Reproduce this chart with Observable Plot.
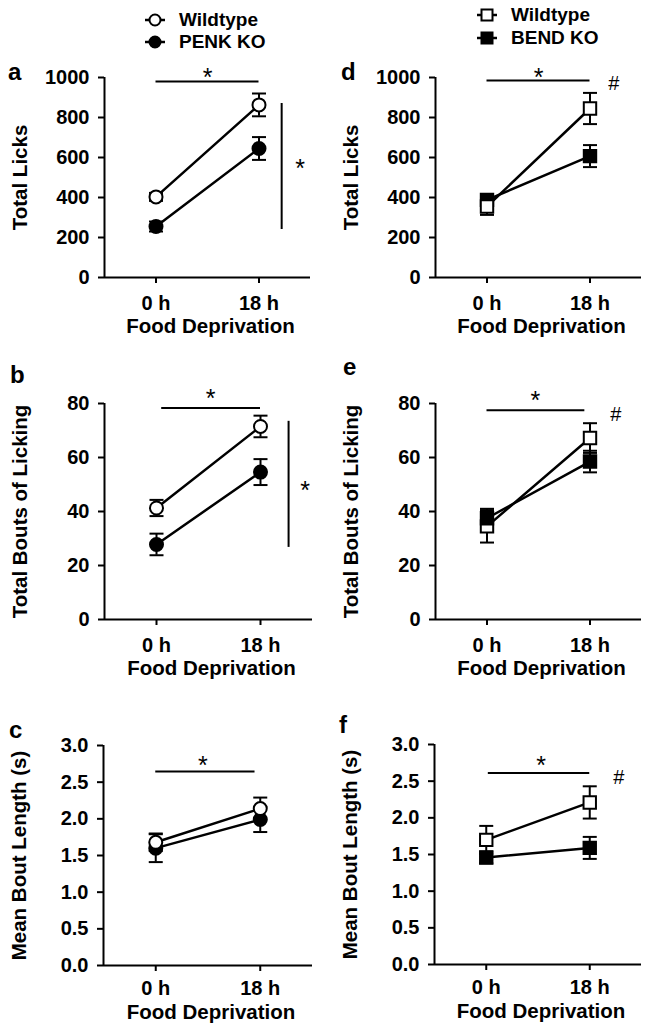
<!DOCTYPE html>
<html><head><meta charset="utf-8">
<script src="https://cdn.jsdelivr.net/npm/d3@7"></script>
<script src="https://cdn.jsdelivr.net/npm/@observablehq/plot@0.6"></script>
<style>
body{margin:0;background:#fff;}
#fig{position:relative;width:646px;height:1033px;font-family:"Liberation Sans",Arial,sans-serif;font-weight:bold;color:#000;overflow:hidden;}
.p{position:absolute;}
.lbl{position:absolute;font-size:24px;line-height:1;}
.leg{position:absolute;font-size:19px;height:20px;display:flex;align-items:center;white-space:nowrap;}
.leg svg{margin-right:13px;}
</style></head><body><div id="fig"></div>
<script>
// ---- data ----
const times = ["0 h", "18 h"];
const groupsLeft = ["Wildtype", "PENK KO"];
const groupsRight = ["Wildtype", "BEND KO"];

const penkLicksWT = [403, 863], penkLicksWTErr = [20, 57];
const penkLicksKO = [255, 645], penkLicksKOErr = [25, 57];
const penkBoutsWT = [41.3, 71.5], penkBoutsWTErr = [3, 4];
const penkBoutsKO = [27.8, 54.6], penkBoutsKOErr = [4, 4.8];
const penkLenWT = [1.68, 2.14], penkLenWTErr = [0.12, 0.15];
const penkLenKO = [1.60, 1.99], penkLenKOErr = [0.19, 0.17];

const bendLicksWT = [355, 845], bendLicksWTErr = [42, 78];
const bendLicksKO = [388, 607], bendLicksKOErr = [25, 55];
const bendBoutsWT = [34.5, 67.2], bendBoutsWTErr = [6, 5.5];
const bendBoutsKO = [37.5, 58.5], bendBoutsKOErr = [3.5, 4];
const bendLenWT = [1.70, 2.21], bendLenWTErr = [0.19, 0.22];
const bendLenKO = [1.46, 1.59], bendLenKOErr = [0.08, 0.15];

const licksTicks = [0, 200, 400, 600, 800, 1000];
const boutsTicks = [0, 20, 40, 60, 80];
const lenTicks = [0, 0.5, 1.0, 1.5, 2.0, 2.5, 3.0];

// significance annotations (data coordinates)
const sigA = {bar: [0, 1, 980], star: [0.5, 997], vbar: [1.22, 240, 870], vstar: [1.40, 542]};
const sigB = {bar: [0.05, 1, 78.3], star: [0.52, 81.8], vbar: [1.27, 26.7, 73.4], vstar: [1.43, 47.7]};
const sigC = {bar: [0, 0.95, 2.645], star: [0.45, 2.72]};
const sigD = {bar: [0, 1, 985], star: [0.5, 997], hash: [1.23, 970]};
const sigE = {bar: [0, 0.95, 77.5], star: [0.47, 81], hash: [1.25, 76]};
const sigF = {bar: [0.02, 1, 2.61], star: [0.53, 2.71], hash: [1.28, 2.55]};

// ---- drawing ----
const FONT = '"Liberation Sans", Arial, sans-serif';
const cap = {draw(ctx, size) { const r = Math.sqrt(size / Math.PI); ctx.moveTo(-r, 0); ctx.lineTo(r, 0); }};
const fig = document.getElementById("fig");

function panel(cfg) {
  const rows = [];
  cfg.series.forEach(s => s.values.forEach((v, i) => rows.push({name: s.name, x: i, y: v, err: s.err[i], filled: s.filled})));
  const [y0, y1] = cfg.domain;
  const sig = cfg.sig;
  const marks = [
    Plot.ruleY([y0], {x1: -0.5, x2: 1.5, strokeWidth: 2}),
    Plot.ruleX([-0.5], {y1: y0, y2: y1, strokeWidth: 2}),
    Plot.axisY({ticks: cfg.ticks, tickFormat: cfg.fmt, tickSize: 6, tickPadding: 9, strokeWidth: 2, label: null, fontSize: 20}),
    Plot.axisX({ticks: [0, 1], tickFormat: i => times[i], tickSize: 6, tickPadding: cfg.tp, strokeWidth: 2, label: null, fontSize: 20}),
    Plot.text([cfg.ylabel], {frameAnchor: "left", textAnchor: "middle", dx: -84, rotate: -90, fontSize: 20.5}),
    Plot.text(["Food Deprivation"], {frameAnchor: "bottom", textAnchor: "middle", dy: cfg.tdy, dx: 3, fontSize: 20.5}),
    Plot.ruleX(rows, {x: "x", y1: d => d.y - d.err, y2: d => d.y + d.err, strokeWidth: 2}),
    Plot.dot(rows, {x: "x", y: d => d.y - d.err, symbol: cap, r: 7, fill: "none", stroke: "black", strokeWidth: 2}),
    Plot.dot(rows, {x: "x", y: d => d.y + d.err, symbol: cap, r: 7, fill: "none", stroke: "black", strokeWidth: 2}),
    Plot.line(rows, {x: "x", y: "y", z: "name", stroke: "black", strokeWidth: 2.5}),
    Plot.dot(rows, {x: "x", y: "y", symbol: cfg.symbol, r: cfg.r, fill: d => d.filled ? "black" : "white", stroke: "black", strokeWidth: 2}),
    Plot.ruleY([sig.bar], {x1: d => d[0], x2: d => d[1], y: d => d[2], strokeWidth: 2}),
    Plot.text([sig.star], {x: d => d[0], y: d => d[1], text: () => "*", fontSize: 25, fontWeight: "normal"})
  ];
  if (sig.vbar) {
    marks.push(Plot.ruleX([sig.vbar], {x: d => d[0], y1: d => d[1], y2: d => d[2], strokeWidth: 2}));
    marks.push(Plot.text([sig.vstar], {x: d => d[0], y: d => d[1], text: () => "*", fontSize: 25, fontWeight: "normal"}));
  }
  if (sig.hash) {
    marks.push(Plot.text([sig.hash], {x: d => d[0], y: d => d[1], text: () => "#", fontSize: 20, fontWeight: "normal"}));
  }
  const svg = Plot.plot({
    width: 323, height: cfg.h,
    marginLeft: cfg.ml, marginRight: cfg.mr, marginTop: cfg.mt, marginBottom: cfg.mb,
    x: {domain: [-0.5, 1.5], axis: null},
    y: {domain: cfg.domain, axis: null},
    style: {fontFamily: FONT, fontWeight: "bold", fontSize: "20px", color: "black", background: "transparent", overflow: "visible"},
    marks
  });
  svg.classList.add("p");
  svg.style.left = cfg.left + "px";
  svg.style.top = cfg.top + "px";
  fig.appendChild(svg);
}

const fmt1 = d3.format(".1f");
const fmt0 = d => String(d);

function S(name, values, err, filled) { return {name, values, err, filled}; }

panel({left: 0, top: 0, h: 340, ml: 104, mr: 13, mt: 77, mb: 63, tdy: 55, tp: 12,
  domain: [0, 1000], ticks: licksTicks, fmt: fmt0, ylabel: "Total Licks", symbol: "circle", r: 6.5, sig: sigA,
  series: [S(groupsLeft[1], penkLicksKO, penkLicksKOErr, true), S(groupsLeft[0], penkLicksWT, penkLicksWTErr, false)]});
panel({left: 0, top: 340, h: 340, ml: 104, mr: 11, mt: 63, mb: 61, tdy: 55, tp: 12,
  domain: [0, 80], ticks: boutsTicks, fmt: fmt0, ylabel: "Total Bouts of Licking", symbol: "circle", r: 6.5, sig: sigB,
  series: [S(groupsLeft[1], penkBoutsKO, penkBoutsKOErr, true), S(groupsLeft[0], penkBoutsWT, penkBoutsWTErr, false)]});
panel({left: 0, top: 680, h: 353, ml: 103, mr: 11, mt: 65, mb: 68, tdy: 53, tp: 9,
  domain: [0, 3], ticks: lenTicks, fmt: fmt1, ylabel: "Mean Bout Length (s)", symbol: "circle", r: 6.5, sig: sigC,
  series: [S(groupsLeft[1], penkLenKO, penkLenKOErr, true), S(groupsLeft[0], penkLenWT, penkLenWTErr, false)]});

panel({left: 323, top: 0, h: 340, ml: 112, mr: 5, mt: 77, mb: 63, tdy: 55, tp: 12,
  domain: [0, 1000], ticks: licksTicks, fmt: fmt0, ylabel: "Total Licks", symbol: "square", r: 7, sig: sigD,
  series: [S(groupsRight[1], bendLicksKO, bendLicksKOErr, true), S(groupsRight[0], bendLicksWT, bendLicksWTErr, false)]});
panel({left: 323, top: 340, h: 340, ml: 112, mr: 5, mt: 63, mb: 61, tdy: 55, tp: 12,
  domain: [0, 80], ticks: boutsTicks, fmt: fmt0, ylabel: "Total Bouts of Licking", symbol: "square", r: 7, sig: sigE,
  series: [S(groupsRight[0], bendBoutsWT, bendBoutsWTErr, false), S(groupsRight[1], bendBoutsKO, bendBoutsKOErr, true)]});
panel({left: 323, top: 680, h: 353, ml: 111, mr: 5, mt: 64, mb: 69, tdy: 53, tp: 9,
  domain: [0, 3], ticks: lenTicks, fmt: fmt1, ylabel: "Mean Bout Length (s)", symbol: "square", r: 7, sig: sigF,
  series: [S(groupsRight[1], bendLenKO, bendLenKOErr, true), S(groupsRight[0], bendLenWT, bendLenWTErr, false)]});

// panel letters
[["a", 8, 60], ["b", 10, 363], ["c", 9, 718], ["d", 341, 60], ["e", 343, 355], ["f", 339, 713]].forEach(([t, x, y]) => {
  const el = document.createElement("div"); el.className = "lbl"; el.textContent = t;
  el.style.left = x + "px"; el.style.top = y + "px"; fig.appendChild(el);
});

// legends
function swatch(sym, filled) {
  const ns = "http://www.w3.org/2000/svg";
  const s = document.createElementNS(ns, "svg");
  s.setAttribute("width", 22); s.setAttribute("height", 16);
  const l = document.createElementNS(ns, "line");
  l.setAttribute("x1", 1); l.setAttribute("x2", 21); l.setAttribute("y1", 8); l.setAttribute("y2", 8);
  l.setAttribute("stroke", "black"); l.setAttribute("stroke-width", 2.5); s.appendChild(l);
  let m;
  if (sym === "circle") { m = document.createElementNS(ns, "circle"); m.setAttribute("cx", 11); m.setAttribute("cy", 8); m.setAttribute("r", 5.5); }
  else { m = document.createElementNS(ns, "rect"); m.setAttribute("x", 5.5); m.setAttribute("y", 2.5); m.setAttribute("width", 11); m.setAttribute("height", 11); }
  m.setAttribute("fill", filled ? "black" : "white"); m.setAttribute("stroke", "black"); m.setAttribute("stroke-width", 2);
  s.appendChild(m);
  return s;
}
function legend(x, y, name, sym, filled) {
  const el = document.createElement("div"); el.className = "leg";
  el.style.left = x + "px"; el.style.top = (y - 10) + "px";
  el.appendChild(swatch(sym, filled));
  el.appendChild(document.createTextNode(name));
  fig.appendChild(el);
}
legend(144, 20, groupsLeft[0], "circle", false);
legend(144, 42, groupsLeft[1], "circle", true);
legend(476, 15, groupsRight[0], "square", false);
legend(476, 38, groupsRight[1], "square", true);
</script></body></html>
